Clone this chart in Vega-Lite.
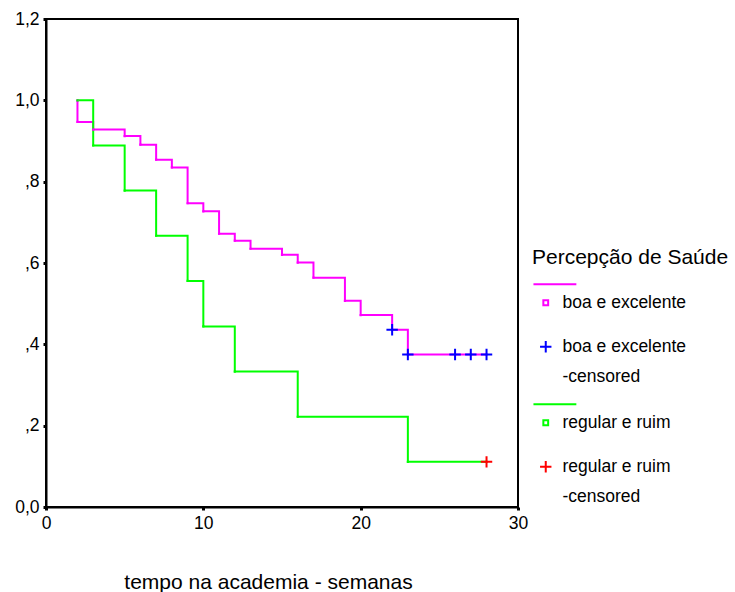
{
  "$schema": "https://vega.github.io/schema/vega-lite/v6.json",
  "width": 472,
  "height": 488,
  "autosize": {"type": "none"},
  "padding": {"left": 46, "top": 19, "right": 217, "bottom": 85},
  "background": "white",
  "datasets": {
    "km": [
      {"tempo": 2, "sobrevivencia": 1.0, "grupo": "boa e excelente", "ordem": 0},
      {"tempo": 2, "sobrevivencia": 0.947, "grupo": "boa e excelente", "ordem": 1},
      {"tempo": 3, "sobrevivencia": 0.928, "grupo": "boa e excelente", "ordem": 2},
      {"tempo": 5, "sobrevivencia": 0.912, "grupo": "boa e excelente", "ordem": 3},
      {"tempo": 6, "sobrevivencia": 0.891, "grupo": "boa e excelente", "ordem": 4},
      {"tempo": 7, "sobrevivencia": 0.854, "grupo": "boa e excelente", "ordem": 5},
      {"tempo": 8, "sobrevivencia": 0.835, "grupo": "boa e excelente", "ordem": 6},
      {"tempo": 9, "sobrevivencia": 0.747, "grupo": "boa e excelente", "ordem": 7},
      {"tempo": 10, "sobrevivencia": 0.727, "grupo": "boa e excelente", "ordem": 8},
      {"tempo": 11, "sobrevivencia": 0.672, "grupo": "boa e excelente", "ordem": 9},
      {"tempo": 12, "sobrevivencia": 0.655, "grupo": "boa e excelente", "ordem": 10},
      {"tempo": 13, "sobrevivencia": 0.635, "grupo": "boa e excelente", "ordem": 11},
      {"tempo": 15, "sobrevivencia": 0.62, "grupo": "boa e excelente", "ordem": 12},
      {"tempo": 16, "sobrevivencia": 0.601, "grupo": "boa e excelente", "ordem": 13},
      {"tempo": 17, "sobrevivencia": 0.564, "grupo": "boa e excelente", "ordem": 14},
      {"tempo": 19, "sobrevivencia": 0.507, "grupo": "boa e excelente", "ordem": 15},
      {"tempo": 20, "sobrevivencia": 0.472, "grupo": "boa e excelente", "ordem": 16},
      {"tempo": 22, "sobrevivencia": 0.436, "grupo": "boa e excelente", "ordem": 17},
      {"tempo": 23, "sobrevivencia": 0.375, "grupo": "boa e excelente", "ordem": 18},
      {"tempo": 28, "sobrevivencia": 0.375, "grupo": "boa e excelente", "ordem": 19},
      {"tempo": 2, "sobrevivencia": 1.0, "grupo": "regular e ruim", "ordem": 0},
      {"tempo": 3, "sobrevivencia": 0.889, "grupo": "regular e ruim", "ordem": 1},
      {"tempo": 5, "sobrevivencia": 0.778, "grupo": "regular e ruim", "ordem": 2},
      {"tempo": 7, "sobrevivencia": 0.667, "grupo": "regular e ruim", "ordem": 3},
      {"tempo": 9, "sobrevivencia": 0.556, "grupo": "regular e ruim", "ordem": 4},
      {"tempo": 10, "sobrevivencia": 0.444, "grupo": "regular e ruim", "ordem": 5},
      {"tempo": 12, "sobrevivencia": 0.333, "grupo": "regular e ruim", "ordem": 6},
      {"tempo": 16, "sobrevivencia": 0.222, "grupo": "regular e ruim", "ordem": 7},
      {"tempo": 23, "sobrevivencia": 0.111, "grupo": "regular e ruim", "ordem": 8},
      {"tempo": 28, "sobrevivencia": 0.111, "grupo": "regular e ruim", "ordem": 9}
    ],
    "cens": [
      {"tempo": 22, "sobrevivencia": 0.436, "grupo": "boa e excelente -censored"},
      {"tempo": 23, "sobrevivencia": 0.375, "grupo": "boa e excelente -censored"},
      {"tempo": 26, "sobrevivencia": 0.375, "grupo": "boa e excelente -censored"},
      {"tempo": 27, "sobrevivencia": 0.375, "grupo": "boa e excelente -censored"},
      {"tempo": 28, "sobrevivencia": 0.375, "grupo": "boa e excelente -censored"},
      {"tempo": 28, "sobrevivencia": 0.111, "grupo": "regular e ruim -censored"}
    ]
  },
  "layer": [
    {
      "data": {"name": "km"},
      "mark": {"type": "line", "interpolate": "step-after", "strokeWidth": 2},
      "encoding": {
        "x": {"field": "tempo", "type": "quantitative"},
        "y": {"field": "sobrevivencia", "type": "quantitative"},
        "order": {"field": "ordem"},
        "color": {"field": "grupo", "type": "nominal", "title": "Percepção de Saúde"}
      }
    },
    {
      "data": {"name": "cens"},
      "mark": {"type": "point", "filled": false, "strokeWidth": 2, "opacity": 1, "size": 144},
      "encoding": {
        "x": {"field": "tempo", "type": "quantitative"},
        "y": {"field": "sobrevivencia", "type": "quantitative"},
        "color": {"field": "grupo", "type": "nominal", "title": "Percepção de Saúde"},
        "shape": {"field": "grupo", "type": "nominal", "title": "Percepção de Saúde"}
      }
    }
  ],
  "encoding": {
    "x": {
      "field": "tempo", "type": "quantitative",
      "scale": {"domain": [0, 30], "nice": false, "zero": false},
      "axis": {
        "values": [0, 10, 20, 30],
        "title": "tempo na academia - semanas",
        "titleX": 222,
        "titlePadding": 40,
        "grid": false
      }
    },
    "y": {
      "field": "sobrevivencia", "type": "quantitative",
      "scale": {"domain": [0, 1.2], "nice": false},
      "axis": {
        "values": [0, 0.2, 0.4, 0.6, 0.8, 1.0, 1.2],
        "title": null,
        "grid": false,
        "labelExpr": "datum.value == 0 ? '0,0' : datum.value < 0.99 ? ',' + format(datum.value * 10, '.0f') : replace(format(datum.value, '.1f'), '.', ',')"
      }
    },
    "color": {
      "field": "grupo", "type": "nominal",
      "scale": {
        "domain": ["boa e excelente", "boa e excelente -censored", "regular e ruim", "regular e ruim -censored"],
        "range": ["#FF00FF", "#0000FF", "#00FF00", "#FF0000"]
      },
      "legend": {
        "orient": "none",
        "legendX": 486,
        "legendY": 228,
        "padding": 0,
        "symbolSize": 144,
        "symbolStrokeWidth": 2,
        "symbolFillColor": "transparent",
        "symbolOffset": 5,
        "labelOffset": 8,
        "rowPadding": 14,
        "titlePadding": 26,
        "titleLimit": 400,
        "labelExpr": "indexof(datum.label, ' -censored') > 0 ? [replace(datum.label, ' -censored', ''), '-censored'] : datum.label",
        "encode": {
          "symbols": {
            "enter": {"fill": {"value": "transparent"}, "fillOpacity": {"value": 0}},
            "update": {"fill": {"value": "transparent"}, "fillOpacity": {"value": 0}}
          }
        }
      }
    },
    "shape": {
      "field": "grupo", "type": "nominal",
      "scale": {
        "domain": ["boa e excelente", "boa e excelente -censored", "regular e ruim", "regular e ruim -censored"],
        "range": [
          "M-0.4,-0.4H0.4V0.4H-0.4Z M-2.05,-3.07H5.1",
          "M0,-2.63M-0.95,0H0.95M0,-0.95V0.95",
          "M-0.4,-0.4H0.4V0.4H-0.4Z M-2.05,-3.07H5.1",
          "M0,-2.63M-0.95,0H0.95M0,-0.95V0.95"
        ]
      }
    }
  },
  "config": {
    "font": "Liberation Sans",
    "view": {"stroke": "black", "strokeWidth": 2},
    "axis": {
      "domainColor": "black",
      "domainWidth": 2,
      "tickColor": "black",
      "tickSize": 3,
      "tickWidth": 3,
      "labelFont": "Liberation Sans",
      "labelFontSize": 17.5,
      "labelColor": "black",
      "labelPadding": 4,
      "titleFont": "Liberation Sans",
      "titleFontSize": 21,
      "titleFontWeight": "normal",
      "titleColor": "black"
    },
    "axisX": {"labelFlush": false},
    "axisY": {"labelFlush": false},
    "legend": {
      "titleFont": "Liberation Sans",
      "titleFontSize": 21,
      "titleFontWeight": "normal",
      "titleColor": "black",
      "labelFont": "Liberation Sans",
      "labelFontSize": 17.5,
      "labelColor": "black",
      "labelLimit": 300
    },
    "style": {"guide-label": {"lineHeight": 30}}
  }
}
